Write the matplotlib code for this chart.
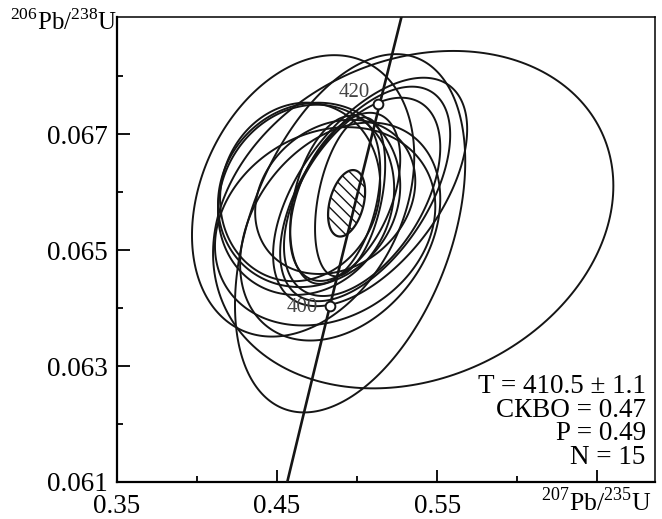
import numpy as np
import matplotlib
matplotlib.use('Agg')
import matplotlib.pyplot as plt
from matplotlib.patches import Polygon

plt.rcParams['font.family'] = 'Liberation Serif'
plt.rcParams['mathtext.fontset'] = 'custom'
plt.rcParams['mathtext.rm'] = 'Liberation Serif'
plt.rcParams['hatch.linewidth'] = 1.0

# error ellipses: centre (207Pb/235U, 206Pb/238U), half-widths, correlation
ell_x = [0.535, 0.46625, 0.4956, 0.4700, 0.4681, 0.4644, 0.4863, 0.4863,
         0.4956, 0.5081, 0.5050, 0.5031, 0.4925, 0.4800, 0.4894]
ell_y = [0.065525, 0.065935, 0.06529, 0.065952, 0.065867, 0.066003, 0.065918, 0.065867,
         0.065918, 0.066003, 0.065969, 0.065918, 0.065918, 0.06541, 0.06532]
ell_sx = [0.125, 0.0694, 0.0719, 0.0569, 0.0550, 0.0500, 0.0500, 0.0281,
          0.0219, 0.0606, 0.0531, 0.0488, 0.0344, 0.0688, 0.0625]
ell_sy = [0.00291, 0.002427, 0.00309, 0.00159, 0.00164, 0.00154, 0.00133, 0.00145,
          0.00137, 0.00197, 0.00185, 0.00171, 0.00145, 0.00171, 0.00188]
ell_rho = [0.20, 0.28, 0.40, 0.10, 0.12, 0.08, 0.20, 0.35,
           0.40, 0.55, 0.55, 0.50, 0.45, 0.20, 0.30]

# concordia age ellipse
conc_x, conc_y, conc_sx, conc_sy, conc_rho = 0.4934, 0.065807, 0.01156, 0.000573, 0.35

# age marks on the concordia
mark_age = ['400', '420']
mark_x = [0.4831, 0.5129]
mark_y = [0.064038, 0.067513]

stats = ['T = 410.5 \u00b1 1.1', '\u0421\u041a\u0412\u041e = 0.47', 'P = 0.49', 'N = 15']

# concordia curve (decay constants, 1/Ma)
l238, l235 = 1.55125e-4, 9.8485e-4
ages = np.linspace(370, 440, 200)


def ellipse_xy(cx, cy, sx, sy, rho):
    t = np.linspace(0, 2 * np.pi, 240)
    x = cx + sx * np.cos(t)
    y = cy + sy * (rho * np.cos(t) + np.sqrt(1 - rho ** 2) * np.sin(t))
    return np.column_stack([x, y])


fig = plt.figure(figsize=(6.62, 5.19), dpi=100)
ax = fig.add_axes([0.1767, 0.0713, 0.8127, 0.8959])

for cx, cy, sx, sy, r in zip(ell_x, ell_y, ell_sx, ell_sy, ell_rho):
    ax.add_patch(Polygon(ellipse_xy(cx, cy, sx, sy, r), closed=True,
                         fill=False, ec='#151515', lw=1.4))

ax.add_patch(Polygon(ellipse_xy(conc_x, conc_y, conc_sx, conc_sy, conc_rho),
                     closed=True, fc='white', ec='#151515', lw=1.6,
                     hatch='\\\\\\', zorder=3))

ax.plot(np.exp(l235 * ages) - 1, np.exp(l238 * ages) - 1, color='#151515', lw=1.9, zorder=4)
ax.plot(mark_x, mark_y, 'o', ms=7, mfc='white', mec='#151515', mew=1.4, zorder=5)
ax.text(mark_x[0] - 0.0075, mark_y[0] - 0.00003, mark_age[0], fontsize=15, color='#444444',
        ha='right', va='center', zorder=5)
ax.text(mark_x[1] - 0.0148, mark_y[1] + 0.0002, mark_age[1], fontsize=15, color='#444444',
        ha='center', va='center', zorder=5)

ax.text(0.983, 0.026, '\n'.join(stats), transform=ax.transAxes, ha='right', va='bottom',
        fontsize=19.5, linespacing=0.93)

ax.set_xlim(0.35, 0.686)
ax.set_ylim(0.061, 0.06902)
ax.set_xticks([0.35, 0.45, 0.55, 0.65])
ax.set_xticklabels(['0.35', '0.45', '0.55', ''])
ax.set_xticks([0.40, 0.50, 0.60], minor=True)
ax.set_yticks([0.061, 0.063, 0.065, 0.067])
ax.set_yticklabels(['0.061', '0.063', '0.065', '0.067'])
ax.set_yticks([0.062, 0.064, 0.066, 0.068], minor=True)
ax.tick_params(which='major', direction='in', length=9, width=1.3, labelsize=19.5, pad=7)
ax.tick_params(axis='x', which='major', pad=9)
ax.tick_params(which='minor', direction='in', length=4.5, width=1.3)
for side in ['left', 'bottom']:
    ax.spines[side].set_linewidth(1.6)
for side in ['top', 'right']:
    ax.spines[side].set_linewidth(1.1)

fig.text(0.9003, 0.034, r'$^{207}\mathrm{Pb}/^{235}\mathrm{U}$', fontsize=18.5,
         ha='center', va='center')
fig.text(0.096, 0.957, r'$^{206}\mathrm{Pb}/^{238}\mathrm{U}$', fontsize=18,
         ha='center', va='center')

fig.savefig('out.png', dpi=100)
